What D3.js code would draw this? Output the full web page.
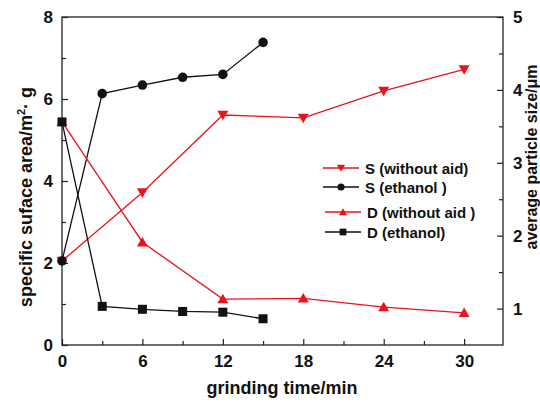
<!DOCTYPE html>
<html>
<head>
<meta charset="utf-8">
<script src="https://cdn.jsdelivr.net/npm/d3@7"></script>
<style>
  body { margin: 0; background: #fff; }
  svg text { font-family: "Liberation Sans", Arial, sans-serif; font-weight: bold; }
</style>
</head>
<body>
<div id="chart"></div>
<script>
// grinding time (min)
const timeAid = [0, 6, 12, 18, 24, 30];
const timeEthanol = [0, 3, 6, 9, 12, 15];

// specific surface area (left axis)
const sWithoutAid = [2.05, 3.72, 5.61, 5.54, 6.2, 6.72];
const sEthanol = [2.05, 6.13, 6.34, 6.53, 6.6, 7.38];

// average particle size (right axis)
const dWithoutAid = [3.56, 1.91, 1.13, 1.14, 1.02, 0.94];
const dEthanol = [3.56, 1.03, 0.99, 0.96, 0.95, 0.86];

const xTicks = [0, 6, 12, 18, 24, 30];
const yLeftTicks = [0, 2, 4, 6, 8];
const yRightTicks = [1, 2, 3, 4, 5];

const series = [
  { name: "S (without aid)", x: timeAid, y: sWithoutAid, axis: "left", color: "#e8141b", marker: "down" },
  { name: "S (ethanol )", x: timeEthanol, y: sEthanol, axis: "left", color: "#111", marker: "circle" },
  { name: "D (without aid )", x: timeAid, y: dWithoutAid, axis: "right", color: "#e8141b", marker: "up" },
  { name: "D (ethanol)", x: timeEthanol, y: dEthanol, axis: "right", color: "#111", marker: "square" }
];

const width = 540, height = 403;
const margin = { top: 17, right: 37, bottom: 58, left: 62 };

const svg = d3.select("#chart").append("svg")
    .attr("width", width)
    .attr("height", height);

const x = d3.scaleLinear().domain([0, 32.9]).range([margin.left, width - margin.right]);
const yL = d3.scaleLinear().domain([0, 8]).range([height - margin.bottom, margin.top]);
const yR = d3.scaleLinear().domain([0.5, 5]).range([height - margin.bottom, margin.top]);

// frame
svg.append("rect")
    .attr("x", margin.left)
    .attr("y", margin.top)
    .attr("width", width - margin.left - margin.right)
    .attr("height", height - margin.top - margin.bottom)
    .attr("fill", "none")
    .attr("stroke", "#222")
    .attr("stroke-width", 1.3);

function styleAxis(g) {
  g.select(".domain").remove();
  g.selectAll("line").attr("stroke", "#222").attr("stroke-width", 1.2);
  g.selectAll("text").attr("font-size", 17).attr("fill", "#111");
}

// x axis: major ticks inward with labels, minor ticks every 3
svg.append("g")
    .attr("transform", `translate(0,${height - margin.bottom})`)
    .call(d3.axisBottom(x).tickValues(d3.range(3, 31, 6)).tickSize(-4).tickFormat(""))
    .call(styleAxis);
svg.append("g")
    .attr("transform", `translate(0,${height - margin.bottom})`)
    .call(d3.axisBottom(x).tickValues(xTicks).tickSize(-6).tickPadding(10))
    .call(styleAxis);

// left axis
svg.append("g")
    .attr("transform", `translate(${margin.left},0)`)
    .call(d3.axisLeft(yL).tickValues([1, 3, 5, 7]).tickSize(-4).tickFormat(""))
    .call(styleAxis);
svg.append("g")
    .attr("transform", `translate(${margin.left},0)`)
    .call(d3.axisLeft(yL).tickValues(yLeftTicks).tickSize(-6).tickPadding(9))
    .call(styleAxis);

// right axis
svg.append("g")
    .attr("transform", `translate(${width - margin.right},0)`)
    .call(d3.axisRight(yR).tickValues([1.5, 2.5, 3.5, 4.5]).tickSize(-4).tickFormat(""))
    .call(styleAxis);
svg.append("g")
    .attr("transform", `translate(${width - margin.right},0)`)
    .call(d3.axisRight(yR).tickValues(yRightTicks).tickSize(-6).tickPadding(10).tickFormat(d3.format("d")))
    .call(styleAxis);

// axis titles
svg.append("text")
    .attr("x", 282)
    .attr("y", 394)
    .attr("text-anchor", "middle")
    .attr("font-size", 18)
    .attr("fill", "#111")
    .text("grinding time/min");

const leftTitle = svg.append("text")
    .attr("transform", "translate(32,197) rotate(-90)")
    .attr("text-anchor", "middle")
    .attr("font-size", 18)
    .attr("fill", "#111");
leftTitle.append("tspan").text("specific suface area/m");
leftTitle.append("tspan").attr("dy", -7).attr("font-size", 11).text("2");
leftTitle.append("tspan").attr("dy", 7).text("· g");

svg.append("text")
    .attr("transform", "translate(537,157) rotate(-90)")
    .attr("text-anchor", "middle")
    .attr("font-size", 16)
    .attr("fill", "#111")
    .text("average particle size/μm");

// markers
function drawMarker(g, type, color, k) {
  if (type === "circle") {
    g.append("circle").attr("r", 4.8 * k).attr("fill", color);
  } else if (type === "square") {
    const h = 4.5 * k;
    g.append("rect").attr("x", -h).attr("y", -h).attr("width", 2 * h).attr("height", 2 * h).attr("fill", color);
  } else {
    const tri = d3.symbol().type(d3.symbolTriangle).size(52 * k * k);
    g.append("path").attr("d", tri()).attr("fill", color)
        .attr("transform", type === "up" ? "translate(0,1)" : "translate(0,-1) rotate(180)");
  }
}

series.forEach(s => {
  const y = s.axis === "left" ? yL : yR;
  const pts = s.x.map((t, i) => [x(t), y(s.y[i])]);
  svg.append("path")
      .attr("d", d3.line()(pts))
      .attr("fill", "none")
      .attr("stroke", s.color)
      .attr("stroke-width", 1.3);
  pts.forEach(p => {
    const g = svg.append("g").attr("transform", `translate(${p[0]},${p[1]})`);
    drawMarker(g, s.marker, s.color, 1);
  });
});

// legend
const legendY = [168, 187, 212, 232];
const legendX = [323, 323, 325, 325];
series.forEach((s, i) => {
  const g = svg.append("g").attr("transform", `translate(${legendX[i]},${legendY[i]})`);
  g.append("line").attr("x1", 0).attr("x2", 36).attr("stroke", s.color).attr("stroke-width", 1.3);
  const m = g.append("g").attr("transform", "translate(18,0)");
  drawMarker(m, s.marker, s.color, 0.75);
  g.append("text")
      .attr("x", 42)
      .attr("y", 5.5)
      .attr("font-size", 15)
      .attr("fill", "#111")
      .text(s.name);
});
</script>
</body>
</html>
